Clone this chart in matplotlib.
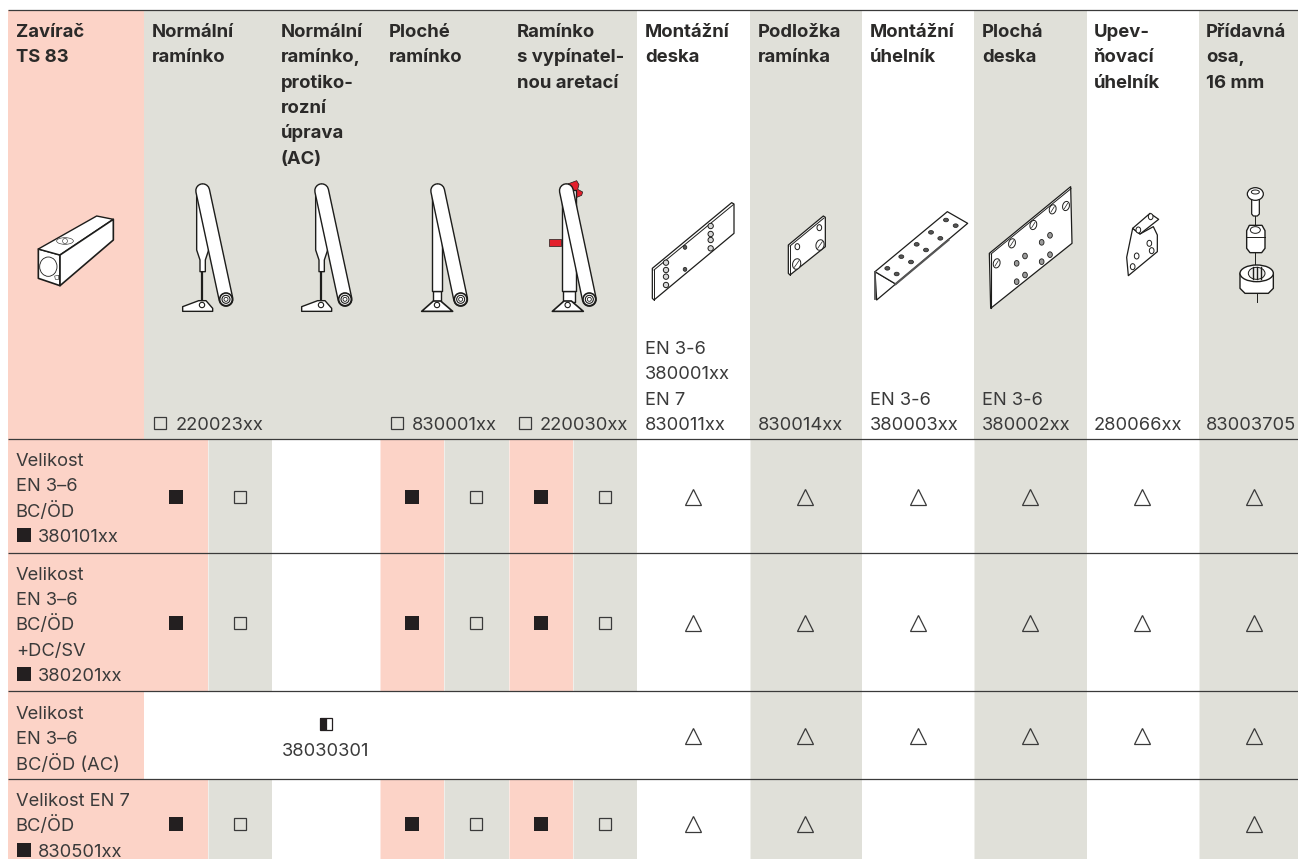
import numpy as np
import matplotlib
matplotlib.use("Agg")
import matplotlib.pyplot as plt
from matplotlib.patches import Rectangle, Ellipse, Polygon

plt.rcParams["font.family"] = ["Inter", "DejaVu Sans"]

PINK = "#fcd3c7"
GREY = "#e0e0d9"
INK = "#3a3a3a"
BOLD = "#2b2a29"
RED = "#e3202c"
SIZE = 13.2
BOLD_SIZE = 13.3

# table texts
header_titles = [
    ["Zavírač", "TS 83"],
    ["Normální", "ramínko"],
    ["Normální", "ramínko,", "protiko-", "rozní", "úprava", "(AC)"],
    ["Ploché", "ramínko"],
    ["Ramínko", "s vypínatel-", "nou aretací"],
    ["Montážní", "deska"],
    ["Podložka", "ramínka"],
    ["Montážní", "úhelník"],
    ["Plochá", "deska"],
    ["Upev-", "ňovací", "úhelník"],
    ["Přídavná", "osa,", "16 mm"],
]
header_codes = [
    [],
    ["220023xx"],
    [],
    ["830001xx"],
    ["220030xx"],
    ["EN 3-6", "380001xx", "EN 7", "830011xx"],
    ["830014xx"],
    ["EN 3-6", "380003xx"],
    ["EN 3-6", "380002xx"],
    ["280066xx"],
    ["83003705"],
]
header_boxed = [False, True, False, True, True, False, False, False, False, False, False]

row_labels = [
    ["Velikost", "EN 3–6", "BC/ÖD", "380101xx"],
    ["Velikost", "EN 3–6", "BC/ÖD", "+DC/SV", "380201xx"],
    ["Velikost", "EN 3–6", "BC/ÖD (AC)"],
    ["Velikost EN 7", "BC/ÖD", "830501xx"],
]
row_label_boxed = [True, True, False, True]
ac_code = "38030301"

# f = filled square, o = open square, t = triangle, "" = empty
arm_marks = [
    ["f", "o", "f", "o", "f", "o"],
    ["f", "o", "f", "o", "f", "o"],
    ["", "", "", "", "", ""],
    ["f", "o", "f", "o", "f", "o"],
]
part_marks = [
    ["t", "t", "t", "t", "t", "t"],
    ["t", "t", "t", "t", "t", "t"],
    ["t", "t", "t", "t", "t", "t"],
    ["t", "t", "", "", "", "t"],
]

# layout in pixels
col_text_x = [15.8, 152, 280.7, 388.5, 516.6, 645, 757.5, 870, 982, 1094, 1206]
arm_x = [176, 240, 412, 476, 540.6, 605]
part_x = [693, 805, 917.5, 1030, 1142, 1254]
row_tops = [439.3, 552.7, 691.3, 779, 859]
row_mark_y = [497, 623, 736, 824]
row_label_base = [466, 579.5, 719, 806]
LINE = 25.4

fig = plt.figure(figsize=(12.98, 8.59), dpi=100)
ax = fig.add_axes([0, 0, 1, 1])
ax.set_xlim(0, 1298)
ax.set_ylim(859, 0)
ax.axis("off")


def rect(x0, x1, y0, y1, color):
    ax.add_patch(Rectangle((x0, y0), x1 - x0, y1 - y0, fc=color, ec="none", zorder=1))


def square(x, y, kind, ms=10):
    if kind == "f":
        ax.plot([x], [y], "s", ms=ms, mfc="#231f20", mec="#231f20", mew=0, zorder=5)
    elif kind == "o":
        ax.plot([x], [y], "s", ms=ms - 1, mfc="none", mec=INK, mew=0.9, zorder=5)
    elif kind == "t":
        ax.plot([x], [y], "^", ms=11, mfc="none", mec=INK, mew=0.9, zorder=5)
    elif kind == "h":
        ax.plot([x], [y], "s", ms=ms - 1, fillstyle="left", mfc="#231f20",
                markerfacecoloralt="white", mec="#231f20", mew=0.9, zorder=5)


# backgrounds
rect(7.5, 144, 10.3, 439, PINK)
rect(144, 637, 10.3, 439, GREY)
part_bands = [(637, 750, "white"), (750, 862, GREY), (862, 974, "white"),
              (974, 1086.5, GREY), (1086.5, 1199, "white"), (1199, 1298, GREY)]
for x0, x1, c in part_bands:
    rect(x0, x1, 10.3, 859, c)
for i in range(4):
    top, bottom = row_tops[i], row_tops[i + 1]
    if i == 2:
        rect(7.5, 144, top, bottom, PINK)
    else:
        rect(7.5, 208, top, bottom, PINK)
        rect(208, 272.4, top, bottom, GREY)
        rect(380, 444.4, top, bottom, PINK)
        rect(444.4, 508.7, top, bottom, GREY)
        rect(508.7, 573, top, bottom, PINK)
        rect(573, 637, top, bottom, GREY)

# thin white seams between the coloured cells
for x in [208, 272.4, 380, 444.4, 508.7, 573, 637, 750, 862, 974, 1086.5, 1199]:
    ax.plot([x, x], [440, 859], color="white", lw=0.5, alpha=0.7, zorder=2)

for y in [10.3, 439.3, 552.7, 691.3, 779]:
    ax.plot([7.5, 1298], [y, y], color=INK, lw=0.9, zorder=4, solid_capstyle="butt")

# header text
for x, title, codes, boxed in zip(col_text_x, header_titles, header_codes, header_boxed):
    for j, line in enumerate(title):
        ax.text(x, 36.7 + LINE * j, line, fontsize=BOLD_SIZE, fontweight="bold", color=BOLD, zorder=6)
    for j, line in enumerate(reversed(codes)):
        tx = x + 23.5 if boxed else x
        ax.text(tx, 430 - LINE * j, line, fontsize=SIZE, color=INK, zorder=6)
    if boxed:
        square(x + 8, 423, "o", ms=10)

# row labels
for i, lines in enumerate(row_labels):
    for j, line in enumerate(lines):
        last = row_label_boxed[i] and j == len(lines) - 1
        tx = col_text_x[0] + (22.5 if last else 0)
        ax.text(tx, row_label_base[i] + LINE * j, line, fontsize=SIZE, color=INK, zorder=6)
        if last:
            square(col_text_x[0] + 8, row_label_base[i] + LINE * j - 7, "f", ms=10)

# marks
for i in range(4):
    for x, k in zip(arm_x, arm_marks[i]):
        square(x, row_mark_y[i], k)
    for x, k in zip(part_x, part_marks[i]):
        square(x, row_mark_y[i], k)
square(326, 724, "h", ms=10)
ax.text(326, 756, ac_code, ha="center", fontsize=SIZE, color=INK, zorder=6)


# product drawings, all given as 3x crop coordinates
def to_px(pts, ox, oy):
    return [(ox + a / 3, oy + b / 3) for a, b in pts]


def poly(pts, ox, oy, fc="white", lw=1.0, ec="#1d1d1b", z=6):
    ax.add_patch(Polygon(to_px(pts, ox, oy), closed=True, fc=fc, ec=ec, lw=lw, zorder=z, joinstyle="round"))


def ell(x, y, w, h, ox, oy, fc="white", lw=0.8, angle=0, z=7):
    ax.add_patch(Ellipse((ox + x / 3, oy + y / 3), w / 3, h / 3, angle=angle, fc=fc, ec="#1d1d1b", lw=lw, zorder=z))


def seg(pts, ox, oy, lw=0.8, color="#1d1d1b", z=7):
    p = np.array(to_px(pts, ox, oy))
    ax.plot(p[:, 0], p[:, 1], color=color, lw=lw, zorder=z)


def capsule(x0, y0, x1, y1, r, ox, oy, z=6):
    # outline of the long arm: thick dark line under a white one
    p = np.array(to_px([(x0, y0), (x1, y1)], ox, oy))
    ax.plot(p[:, 0], p[:, 1], color="#1d1d1b", lw=(2 * r / 3 + 1.8) * 0.72, solid_capstyle="round", zorder=z)
    ax.plot(p[:, 0], p[:, 1], color="white", lw=(2 * r / 3 - 1.0) * 0.72, solid_capstyle="round", zorder=z + 0.1)


def ring(x, y, ox, oy, z=6.5):
    ell(x, y, 38, 38, ox, oy, lw=1.2, z=z)
    ell(x, y, 24, 24, ox, oy, lw=0.8, z=z)
    ell(x, y, 12, 12, ox, oy, lw=0.6, z=z)


def normal_arm(ox, oy):
    poly([(530, 60), (566, 60), (566, 240), (556, 270), (556, 305), (540, 305), (540, 270), (530, 240)], ox, oy, z=5.5)
    seg([(545, 305), (545, 395)], ox, oy, lw=1.6, z=5.4)
    poly([(488, 424), (488, 410), (536, 392), (558, 392), (578, 415), (578, 424)], ox, oy)
    ell(546, 405, 16, 16, ox, oy)
    capsule(548, 62, 618, 388, 20, ox, oy)
    ring(618, 388, ox, oy)


def flat_arm(ox, oy, dx=0, wide=0):
    poly([(95 + dx, 60), (125 + dx + wide, 60), (125 + dx + wide, 363), (95 + dx, 363)], ox, oy, z=5.5)
    poly([(98 + dx, 363), (122 + dx + wide, 363), (122 + dx + wide, 395), (98 + dx, 395)], ox, oy, z=5.4)
    poly([(65 + dx, 424), (100 + dx, 393), (122 + dx, 393), (158 + dx, 424)], ox, oy, lw=1.2)
    ell(111 + dx, 405, 16, 16, ox, oy)


normal_arm(20, 170)
normal_arm(139, 170)

flat_arm(400, 170)
capsule(113, 62, 182, 388, 20, 400, 170)
ring(182, 388, 400, 170)

poly([(446, 208), (482, 208), (482, 229), (446, 229)], 400, 170, fc=RED, lw=0.5, z=5)
poly([(503, 42), (530, 32), (537, 44), (533, 58), (548, 66), (545, 76), (526, 84), (515, 55)], 400, 170, fc=RED, lw=0.5, z=5)
flat_arm(400, 170, dx=392, wide=11)
capsule(499, 62, 568, 388, 20, 400, 170)
ring(568, 388, 400, 170)

# closer body
poly([(55, 237), (120, 255), (120, 347), (55, 325)], 20, 170, lw=1.2)
poly([(55, 237), (230, 138), (280, 148), (120, 255)], 20, 170, lw=1.0)
poly([(120, 255), (280, 148), (280, 210), (120, 347)], 20, 170, lw=1.2)
ell(85, 290, 52, 58, 20, 170, lw=0.6)
ell(135, 213, 50, 20, 20, 170, lw=0.4)
ell(135, 213, 14, 16, 20, 170, lw=0.4)
poly([(104, 318), (116, 316), (116, 328), (106, 328)], 20, 170, lw=0.4, z=7)

# mounting plate
ox, oy = 640, 190
poly([(37, 235), (275, 38), (282, 42), (282, 130), (42, 330), (37, 325)], ox, oy, lw=0.9)
seg([(42, 240), (280, 44)], ox, oy, lw=0.7)
seg([(42, 240), (42, 330)], ox, oy, lw=0.7)
for x, y in [(78, 218), (78, 240), (78, 260), (78, 285), (212, 108), (212, 132), (212, 150), (212, 175)]:
    ell(x, y, 16, 16, ox, oy, lw=0.7, fc="#d8d8d8")
for x, y in [(135, 172), (135, 238)]:
    ell(x, y, 11, 12, ox, oy, fc="#555555", lw=0.5)

# arm backing plate
poly([(445, 165), (550, 78), (556, 82), (556, 170), (450, 255), (445, 250)], ox, oy, lw=0.9)
seg([(450, 168), (552, 84)], ox, oy, lw=0.7)
seg([(450, 168), (450, 255)], ox, oy, lw=0.7)
for x, y in [(472, 170), (538, 113)]:
    ell(x, y, 14, 18, ox, oy, lw=0.7)
for x, y in [(470, 222), (540, 165)]:
    ell(x, y, 24, 32, ox, oy, lw=0.7, angle=15)
    seg([(x - 7, y + 10), (x + 7, y - 10)], ox, oy, lw=0.5)

# mounting angle
ox, oy = 860, 180
poly([(45, 275), (50, 360), (107, 312)], ox, oy, lw=0.9)
poly([(45, 275), (262, 95), (323, 130), (107, 312)], ox, oy, lw=0.9)
seg([(107, 312), (265, 180)], ox, oy, lw=1.6, color="#555555")
seg([(45, 275), (45, 358)], ox, oy, lw=1.3, color="#555555")
for x, y in [(82, 265), (110, 282), (124, 230), (153, 246), (170, 193), (198, 210), (213, 157), (241, 175), (258, 120), (287, 137)]:
    ell(x, y, 15, 11, ox, oy, lw=0.5, fc="#555555")

# flat plate
poly([(388, 220), (632, 20), (636, 190), (392, 385)], ox, oy, lw=0.9)
seg([(393, 222), (633, 26)], ox, oy, lw=0.7)
seg([(393, 222), (393, 385)], ox, oy, lw=0.8)
for x, y in [(456, 190), (520, 135), (578, 88), (618, 78), (410, 250)]:
    ell(x, y, 20, 28, ox, oy, lw=0.7, angle=15)
    seg([(x - 5, y + 8), (x + 5, y - 8)], ox, oy, lw=0.5)
for x, y in [(470, 250), (495, 228), (470, 305), (495, 285), (545, 187), (570, 166), (545, 245), (570, 224)]:
    ell(x, y, 14, 17, ox, oy, lw=0.6, fc="#9a9a9a")

# fixing bracket
ox, oy = 1100, 180
poly([(98, 145), (80, 232), (85, 287), (172, 215), (172, 165), (160, 140), (120, 162)], ox, oy, lw=0.9)
poly([(98, 145), (150, 100), (176, 118), (120, 162)], ox, oy, lw=0.9)
for x, y in [(148, 190), (155, 212), (110, 228), (98, 260), (152, 110), (115, 150)]:
    ell(x, y, 14, 18, ox, oy, lw=0.7)

# extra axis parts
seg([(466, 108), (466, 137)], ox, oy, lw=0.7, z=5)
seg([(466, 220), (466, 260)], ox, oy, lw=0.7, z=5)
seg([(470, 340), (470, 365)], ox, oy, lw=0.7, z=5)
poly([(455, 55), (478, 55), (478, 102), (472, 108), (460, 108), (455, 102)], ox, oy, lw=0.9)
ell(466, 42, 48, 38, ox, oy, lw=0.9)
ell(466, 36, 24, 12, ox, oy, lw=0.7)
poly([(440, 152), (448, 136), (486, 136), (495, 152), (495, 205), (485, 218), (450, 218), (440, 205)], ox, oy, lw=1.0)
seg([(440, 172), (495, 172)], ox, oy, lw=0.7)
ell(466, 150, 30, 20, ox, oy, lw=0.7)
poly([(420, 280), (420, 325), (435, 340), (505, 340), (520, 325), (520, 280)], ox, oy, lw=1.0)
ell(470, 280, 100, 50, ox, oy, lw=1.0)
ell(470, 280, 50, 36, ox, oy, lw=0.7, fc="#eeeeee")
for x in [458, 470, 482]:
    seg([(x, 262), (x, 298)], ox, oy, lw=1.0)

fig.savefig("out.png", dpi=100)
